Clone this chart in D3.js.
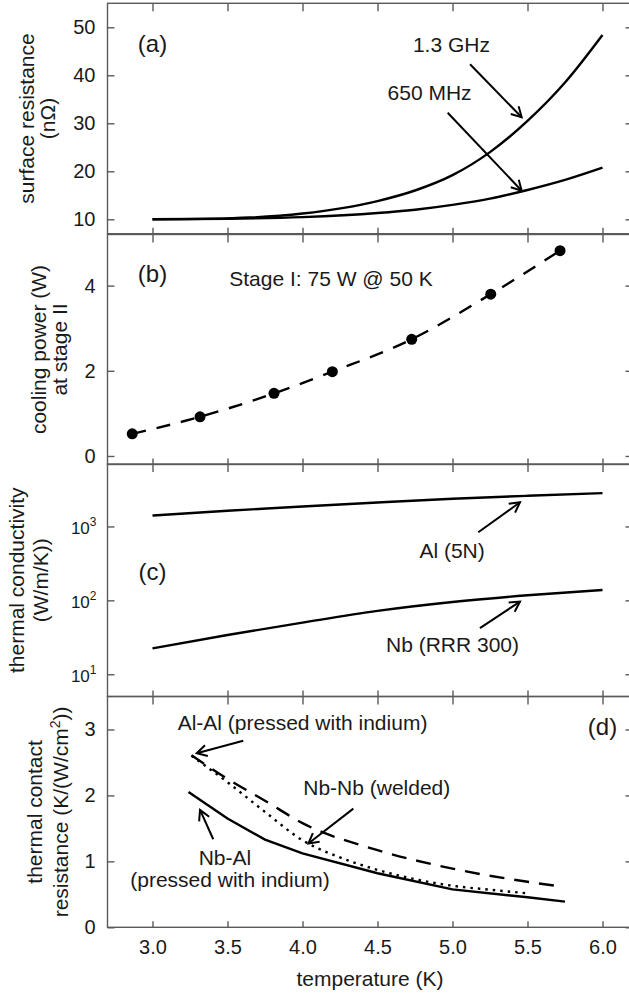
<!DOCTYPE html>
<html>
<head>
<meta charset="utf-8">
<script src="https://cdn.jsdelivr.net/npm/d3@7"></script>
<style>
  body { margin: 0; background: #fff; }
  text { font-family: "Liberation Sans", Arial, sans-serif; fill: #1a1a1a; }
</style>
</head>
<body>
<div id="chart"></div>
<script>
// values

// (a) surface resistance (nOhm)
let rs_temp = [3.0, 3.5, 4.0, 4.5, 4.75, 5.0, 5.25, 5.5, 5.75, 6.0];
let rs_1300 = [10.0, 10.2, 11.2, 13.8, 16.0, 19.2, 24.0, 30.5, 38.5, 48.4];
let rs_650 = [10.0, 10.1, 10.45, 11.3, 12.0, 13.0, 14.3, 16.1, 18.2, 20.75];

// (b) cooling power at stage II (W)
let cp_temp = [2.865, 3.317, 3.81, 4.199, 4.728, 5.255, 5.717];
let cp_power = [0.52, 0.92, 1.47, 1.98, 2.74, 3.80, 4.82];

// (c) thermal conductivity (W/m/K)
let tc_temp = [3.0, 3.5, 4.0, 4.5, 5.0, 5.5, 6.0];
let tc_al = [1408, 1630, 1863, 2110, 2367, 2600, 2827];
let tc_nb = [22.4, 34, 50, 72, 95, 117, 138];

// (d) thermal contact resistance (K/(W/cm2))
let nbal_temp = [3.24, 3.5, 3.75, 4.0, 4.5, 5.0, 5.5, 5.75];
let nbal_res = [2.05, 1.65, 1.33, 1.12, 0.82, 0.575, 0.455, 0.39];
let alal_temp = [3.26, 3.5, 3.75, 4.0, 4.5, 5.0, 5.5, 5.74];
let alal_res = [2.61, 2.25, 1.92, 1.58, 1.17, 0.89, 0.69, 0.615];
let nbnb_temp = [3.26, 3.5, 3.75, 4.0, 4.25, 4.5, 4.75, 5.0, 5.25, 5.5];
let nbnb_res = [2.6, 2.2, 1.75, 1.32, 1.06, 0.87, 0.73, 0.63, 0.57, 0.515];

let x_ticks = [3.0, 3.5, 4.0, 4.5, 5.0, 5.5, 6.0];
let a_ticks = [10, 20, 30, 40, 50];
let b_ticks = [0, 2, 4];
let c_ticks = [10, 100, 1000];
let d_ticks = [0, 1, 2, 3];

let width = 629;
let height = 996;
let frame_col = "#5a5a5a";

let svg = d3.select("#chart")
  .append("svg")
    .attr("width", width)
    .attr("height", height)
    .attr("xmlns", "http://www.w3.org/2000/svg");

svg.append("rect").attr("width", width).attr("height", height).attr("fill", "#fff");

svg.append("defs").append("marker")
    .attr("id", "arrow")
    .attr("markerUnits", "userSpaceOnUse")
    .attr("viewBox", "-12 -7 14 14")
    .attr("markerWidth", 14)
    .attr("markerHeight", 14)
    .attr("orient", "auto")
  .append("path")
    .attr("d", "M-10,-5.5 L0,0 L-10,5.5")
    .attr("fill", "none")
    .attr("stroke", "#000")
    .attr("stroke-width", 2);

let x = d3.scaleLinear().domain([2.7, 6.2]).range([107.5, 632.5]);

let y_a = d3.scaleLinear().domain([7, 55]).range([233.7, 3.3]);
let y_b = d3.scaleLinear().domain([-0.2, 5.2]).range([464.5, 234.5]);
let y_c = d3.scaleLog().domain([5, 7000]).range([696.5, 464]);
let y_d = d3.scaleLinear().domain([0, 3.5]).range([927.3, 696.5]);

let panels = [
  {y: y_a, ticks: a_ticks},
  {y: y_b, ticks: b_ticks},
  {y: y_c, ticks: c_ticks, log: true},
  {y: y_d, ticks: d_ticks, last: true}
];

let draw_frame = function draw_frame(p)
{
  let top = p.y.range()[1];
  let bot = p.y.range()[0];
  let g = svg.append("g");

  g.append("rect")
    .attr("x", x.range()[0])
    .attr("y", top)
    .attr("width", x.range()[1] - x.range()[0])
    .attr("height", bot - top)
    .attr("fill", "none")
    .attr("stroke", frame_col)
    .attr("stroke-width", 1.4);

  let ax_top = d3.axisTop(x).tickValues(x_ticks).tickSize(-8).tickFormat("");
  let ax_bot = d3.axisBottom(x).tickValues(x_ticks).tickSize(-6).tickPadding(13)
                 .tickFormat(p.last ? d3.format(".1f") : "");
  let ax_left = d3.axisLeft(p.y).tickValues(p.ticks).tickSize(-7).tickPadding(12)
                  .tickFormat(p.log ? "" : d3.format("d"));
  let ax_right = d3.axisRight(p.y).tickValues(p.ticks).tickSize(-7).tickFormat("");

  g.append("g").attr("transform", "translate(0," + top + ")").call(ax_top);
  g.append("g").attr("transform", "translate(0," + bot + ")").call(ax_bot);
  g.append("g").attr("transform", "translate(" + x.range()[0] + ",0)").call(ax_left);
  g.append("g").attr("transform", "translate(" + x.range()[1] + ",0)").call(ax_right);

  g.selectAll(".domain").remove();
  g.selectAll(".tick line").attr("stroke", frame_col).attr("stroke-width", 1.4);
  g.selectAll(".tick text")
    .attr("font-family", "Liberation Sans, Arial, sans-serif")
    .attr("font-size", 20)
    .attr("fill", "#1a1a1a");

  if (p.log) {
    // 10^n labels with raised exponent
    let lab = g.selectAll(".loglab")
      .data(p.ticks)
      .enter()
      .append("text")
        .attr("x", x.range()[0] - 11)
        .attr("y", d => p.y(d) + 7.5)
        .attr("text-anchor", "end")
        .attr("font-size", 17);
    lab.append("tspan").text("10");
    lab.append("tspan")
      .attr("font-size", 12)
      .attr("dy", -8)
      .text(d => Math.round(Math.log10(d)));
  }
  return (null);
}

panels.forEach(draw_frame);

let curve = function draw_curve(xs, ys, yscale, dash, kind)
{
  let pts = xs.map((t, i) => [t, ys[i]]);
  let line = d3.line()
    .x(d => x(d[0]))
    .y(d => yscale(d[1]))
    .curve(kind || d3.curveMonotoneX);
  svg.append("path")
    .datum(pts)
    .attr("d", line)
    .attr("fill", "none")
    .attr("stroke", "#000")
    .attr("stroke-width", 2.4)
    .attr("stroke-dasharray", dash || null);
  return (null);
}

let label = function draw_label(str, t, v, yscale, size, anchor)
{
  return svg.append("text")
    .attr("x", x(t))
    .attr("y", yscale(v))
    .attr("text-anchor", anchor || "middle")
    .attr("font-size", size || 21)
    .text(str);
}

let arrow = function draw_arrow(t0, v0, t1, v1, yscale)
{
  svg.append("line")
    .attr("x1", x(t0)).attr("y1", yscale(v0))
    .attr("x2", x(t1)).attr("y2", yscale(v1))
    .attr("stroke", "#000")
    .attr("stroke-width", 2)
    .attr("marker-end", "url(#arrow)");
  return (null);
}

// (a)
curve(rs_temp, rs_1300, y_a);
curve(rs_temp, rs_650, y_a);
label("(a)", 3.0, 44.9, y_a, 24);
label("1.3 GHz", 4.993, 44.9, y_a);
label("650 MHz", 4.847, 34.85, y_a);
arrow(5.117, 42.3, 5.461, 31.25, y_a);
arrow(4.968, 32.2, 5.461, 15.96, y_a);

// (b)
curve(cp_temp, cp_power, y_b, "14,11");
svg.selectAll(".dot")
  .data(cp_temp)
  .enter()
  .append("circle")
    .attr("cx", d => x(d))
    .attr("cy", (d, i) => y_b(cp_power[i]))
    .attr("r", 5.5)
    .attr("fill", "#000");
label("(b)", 3.0, 4.09, y_b, 24);
label("Stage I: 75 W @ 50 K", 4.19, 3.99, y_b);

// (c)
curve(tc_temp, tc_al, y_c);
curve(tc_temp, tc_nb, y_c);
label("(c)", 3.0, 189, y_c, 24);
label("Al (5N)", 4.997, 375, y_c);
arrow(5.172, 835, 5.45, 2123, y_c);
label("Nb (RRR 300)", 5.0, 19.7, y_c);
arrow(5.183, 42.1, 5.45, 96.3, y_c);

// (d)
curve(nbal_temp, nbal_res, y_d, null, d3.curveLinear);
curve(alal_temp, alal_res, y_d, "15,10");
curve(nbnb_temp, nbnb_res, y_d, "2.5,5");
label("(d)", 6.0, 2.91, y_d, 24);
label("Al-Al (pressed with indium)", 4.0, 2.99, y_d);
arrow(3.605, 2.83, 3.295, 2.64, y_d);
label("Nb-Nb (welded)", 4.495, 2.0, y_d);
arrow(4.339, 1.80, 4.039, 1.27, y_d);
label("Nb-Al", 3.483, 0.945, y_d);
label("(pressed with indium)", 3.517, 0.61, y_d);
arrow(3.405, 1.335, 3.317, 1.78, y_d);

// x axis title
svg.append("text")
  .attr("x", 370)
  .attr("y", 986)
  .attr("text-anchor", "middle")
  .attr("font-size", 21)
  .text("temperature (K)");

// y axis titles, two lines each
let ytitle = function draw_ytitle(lines, yscale)
{
  let cy = (yscale.range()[0] + yscale.range()[1]) / 2;
  lines.forEach(function (ln) {
    let t = svg.append("text")
      .attr("transform", "translate(" + ln.bx + "," + cy + ") rotate(-90)")
      .attr("text-anchor", "middle")
      .attr("font-size", 21);
    ln.parts.forEach(function (p) {
      let s = t.append("tspan").text(p.s);
      if (p.sup) s.attr("font-size", 14).attr("baseline-shift", "super");
    });
  });
  return (null);
}

ytitle([{bx: 33.5, parts: [{s: "surface resistance"}]},
        {bx: 55, parts: [{s: "(n\u03A9)"}]}], y_a);
ytitle([{bx: 46, parts: [{s: "cooling power (W)"}]},
        {bx: 67, parts: [{s: "at stage II"}]}], y_b);
ytitle([{bx: 24, parts: [{s: "thermal conductivity"}]},
        {bx: 47.5, parts: [{s: "(W/m/K))"}]}], y_c);
ytitle([{bx: 41.5, parts: [{s: "thermal contact"}]},
        {bx: 68, parts: [{s: "resistance (K/(W/cm"}, {s: "2", sup: true}, {s: "))"}]}], y_d);
</script>
</body>
</html>
